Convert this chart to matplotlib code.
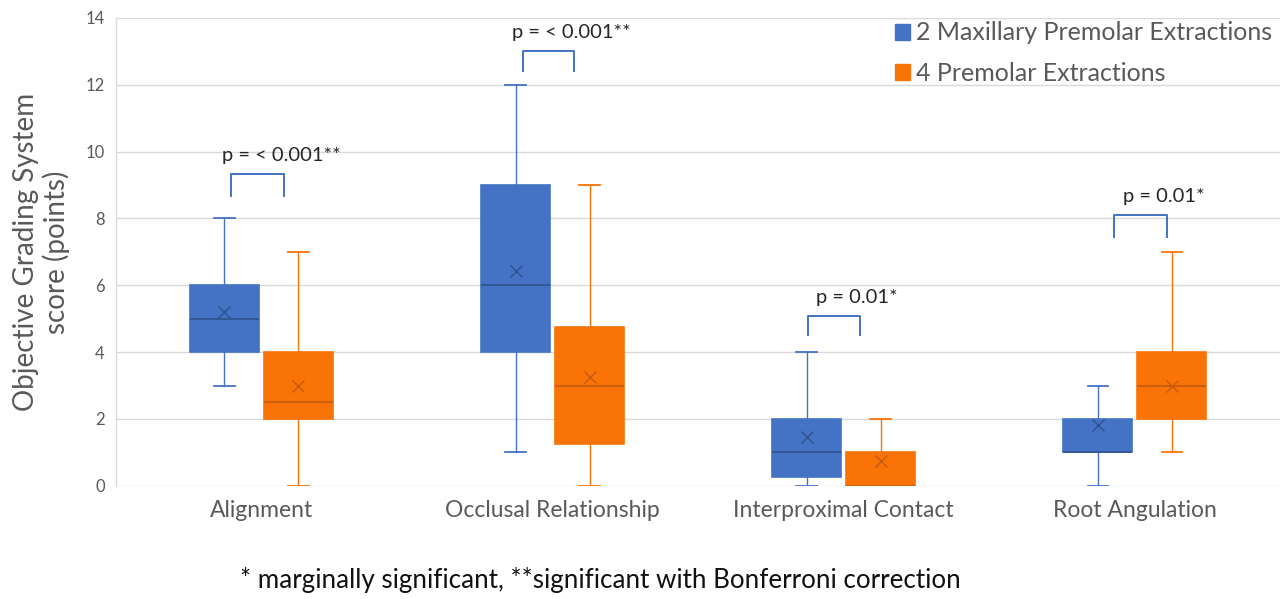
import matplotlib

matplotlib.use("Agg")

import matplotlib.pyplot as plt
from matplotlib.patches import Patch

categories = ["Alignment", "Occlusal Relationship", "Interproximal Contact", "Root Angulation"]
series_names = ["2 Maxillary Premolar Extractions", "4 Premolar Extractions"]

# per-group summary statistics (points)
two_ext_low = [3, 1, 0, 0]
two_ext_q1 = [4, 4, 0.25, 1]
two_ext_med = [5, 6, 1, 1]
two_ext_q3 = [6, 9, 2, 2]
two_ext_high = [8, 12, 4, 3]
two_ext_mean = [5.2, 6.43, 1.46, 1.82]

four_ext_low = [0, 0, 0, 1]
four_ext_q1 = [2, 1.25, 0, 2]
four_ext_med = [2.5, 3, 0, 3]
four_ext_q3 = [4, 4.75, 1, 4]
four_ext_high = [7, 9, 2, 7]
four_ext_mean = [3.0, 3.27, 0.75, 3.0]

p_labels = ["p = < 0.001**", "p = < 0.001**", "p = 0.01*", "p = 0.01*"]
bracket_top = [9.32, 13.02, 5.09, 8.09]
bracket_foot = [8.67, 12.41, 4.5, 7.46]
bracket_left = [-0.103, -0.103, -0.124, -0.072]
bracket_right = [0.079, 0.072, 0.055, 0.110]

footnote = "* marginally significant, **significant with Bonferroni correction"

BLUE = "#4472C4"
BLUE_DARK = "#2F528F"
ORANGE = "#F97306"
ORANGE_DARK = "#C55A11"
GREY_TEXT = "#595959"
GRID = "#D9D9D9"

plt.rcParams["font.family"] = ["Lato", "DejaVu Sans"]


def make_stats(low, q1, med, q3, high, mean):
    return [
        {"whislo": lo, "q1": a, "med": m, "q3": b, "whishi": hi, "mean": mu, "fliers": []}
        for lo, a, m, b, hi, mu in zip(low, q1, med, q3, high, mean)
    ]


fig = plt.figure(figsize=(12.88, 5.99), dpi=100)
ax = fig.add_axes([0.090, 0.189, 0.904, 0.781])

offset = 0.127
width = 0.237
groups = [
    (make_stats(two_ext_low, two_ext_q1, two_ext_med, two_ext_q3, two_ext_high, two_ext_mean),
     -offset, BLUE, BLUE_DARK),
    (make_stats(four_ext_low, four_ext_q1, four_ext_med, four_ext_q3, four_ext_high, four_ext_mean),
     offset, ORANGE, ORANGE_DARK),
]

for stats, shift, fill, dark in groups:
    ax.bxp(
        stats,
        positions=[i + shift for i in range(len(categories))],
        widths=width,
        patch_artist=True,
        showmeans=True,
        showfliers=False,
        boxprops={"facecolor": fill, "edgecolor": fill, "linewidth": 1.2},
        medianprops={"color": dark, "linewidth": 1.2},
        whiskerprops={"color": fill, "linewidth": 1.0},
        capprops={"color": fill, "linewidth": 1.3},
        capwidths=0.07,
        meanprops={"marker": "x", "markeredgecolor": dark, "markersize": 8,
                   "markeredgewidth": 1.0},
        zorder=3,
    )

# significance brackets
for i, label in enumerate(p_labels):
    x0 = i + bracket_left[i]
    x1 = i + bracket_right[i]
    ax.plot([x0, x0, x1, x1],
            [bracket_foot[i], bracket_top[i], bracket_top[i], bracket_foot[i]],
            color=BLUE, linewidth=1.4, zorder=4)
    ax.text((x0 + x1) / 2 + 0.08, bracket_top[i] + 0.3, label,
            ha="center", va="bottom", fontsize=14.5, color="#262626")

ax.set_xlim(-0.5, len(categories) - 0.5)
ax.set_ylim(0, 14)
ax.set_yticks(range(0, 15, 2))
ax.set_xticks(range(len(categories)))
ax.set_xticklabels(categories, fontsize=16.5, color=GREY_TEXT)
ax.tick_params(axis="y", labelsize=12, labelcolor=GREY_TEXT, length=0, pad=8)
ax.tick_params(axis="x", length=0, pad=10)
ax.grid(axis="y", color=GRID, linewidth=1.0, zorder=0)
ax.set_axisbelow(True)
for side in ["top", "right", "bottom"]:
    ax.spines[side].set_visible(False)
ax.spines["left"].set_color(GRID)
ax.spines["left"].set_linewidth(1.0)

ax.set_ylabel("Objective Grading System\nscore (points)", fontsize=20,
              color=GREY_TEXT, linespacing=1.15, va="center")
ax.yaxis.set_label_coords(-0.064, 0.5)

handles = [Patch(facecolor=BLUE, edgecolor=BLUE), Patch(facecolor=ORANGE, edgecolor=ORANGE)]
ax.legend(handles, series_names, loc="upper right", bbox_to_anchor=(1.002, 1.014),
          frameon=False, fontsize=18, labelcolor=GREY_TEXT, handlelength=0.6,
          handleheight=0.6, handletextpad=0.25, labelspacing=0.7, borderaxespad=0.0)

fig.text(0.186, 0.032, footnote, fontsize=18.7, color="#111111", ha="left", va="center")

fig.savefig("out.png", dpi=100, facecolor="white")
